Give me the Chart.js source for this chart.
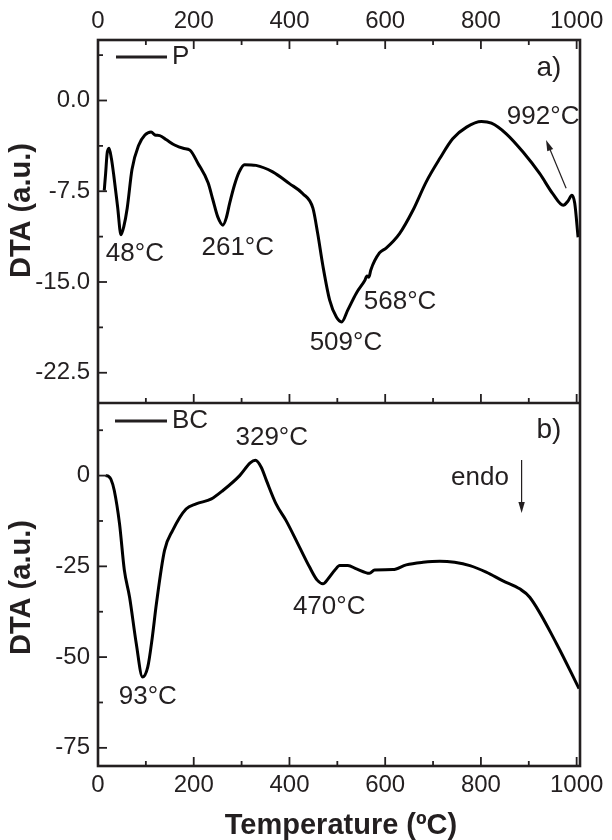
<!DOCTYPE html>
<html>
<head>
<meta charset="utf-8">
<script src="https://cdn.jsdelivr.net/npm/chart.js@4.4.1/dist/chart.umd.min.js"></script>
<style>
  html, body { margin: 0; padding: 0; background: #fff; }
  canvas { display: block; }
</style>
</head>
<body>
<canvas id="dtaChart" width="612" height="840"></canvas>
<script>
// sample P, panel a)
const tempP = [13, 16, 19, 23, 28, 33, 41, 48, 54, 61, 71, 85, 98, 111, 119, 129, 143, 160, 178, 192,
  209, 230, 240, 250, 261, 268, 275, 285, 295, 306, 330, 365, 400, 428, 449, 459, 470, 484, 498, 509,
  522, 540, 557, 562, 566, 570, 588, 602, 630, 658, 686, 714, 741, 770, 801, 822, 853, 888, 923, 950,
  972, 982, 990, 996, 1003];
const dtaP = [-7.45, -6.0, -4.4, -3.95, -4.8, -6.2, -8.8, -11.1, -10.4, -8.9, -5.7, -3.7, -2.85, -2.6, -2.85, -2.9, -3.25, -3.68, -3.95, -4.1,
  -5.2, -6.8, -8.2, -9.6, -10.3, -9.7, -8.5, -7.0, -5.9, -5.3, -5.36, -5.9, -6.87, -7.7, -8.9, -11.0, -13.7, -16.5, -17.9, -18.3,
  -17.3, -15.9, -14.9, -14.5, -14.6, -14.0, -12.6, -12.2, -11.0, -9.07, -6.7, -4.8, -3.16, -2.2, -1.73, -1.87, -2.75, -4.26, -6.05, -7.7,
  -8.66, -8.3, -7.83, -8.5, -11.3];

// sample BC, panel b)
const tempBC = [16, 22, 27, 34, 45, 55, 66, 80, 93, 104, 113, 122, 139, 156, 184, 205, 237, 261, 296, 318,
  329, 341, 352, 372, 393, 421, 442, 458, 470, 482, 495, 505, 522, 540, 567, 578, 616, 644, 679, 714,
  745, 777, 811, 846, 881, 902, 958, 1005];
const dtaBC = [0, -0.2, -1.0, -4.1, -13.3, -26, -33.5, -46.3, -55.5, -52.7, -45, -35.3, -20.6, -15.1, -9.2, -7.8, -6.4, -4.1, 0, 3.5,
  4.2, 2.3, -1.4, -7.8, -12.4, -19.7, -25.2, -28.8, -29.8, -28.2, -26, -24.8, -24.8, -25.7, -26.9, -26, -25.9, -24.6, -23.9, -23.6,
  -23.9, -24.8, -26.6, -29.0, -31.2, -33.5, -46.3, -58.7];

const tempTicks = [0, 100, 200, 300, 400, 500, 600, 700, 800, 900, 1000];
const tempLabels = [0, 200, 400, 600, 800, 1000];
const topTicks = [-22.5, -18.75, -15, -11.25, -7.5, -3.75, 0, 3.75];
const topLabels = [-22.5, -15, -7.5, 0];
const botTicks = [-75, -62.5, -50, -37.5, -25, -12.5, 0, 12.5];
const botLabels = [-75, -50, -25, 0];

// marked peak temperatures
const peaksP = [48, 261, 509, 568, 992];
const peaksBC = [93, 329, 470];

const ink = '#231f20';
const sans = '"Liberation Sans", Arial, sans-serif';

function setTicks(list) {
  return scale => { scale.ticks = list.map(v => ({ value: v })); };
}

function xAxis(position, showLabels, padding, height) {
  return {
    type: 'linear',
    position: position,
    min: 0,
    max: 1007,
    grid: { display: false, drawTicks: false },
    border: { display: false },
    afterBuildTicks: setTicks(tempTicks),
    afterFit: s => { s.height = height; },
    ticks: {
      display: showLabels,
      padding: padding,
      maxRotation: 0,
      autoSkip: false,
      color: ink,
      font: { family: sans, size: 24 },
      callback: v => tempLabels.includes(v) ? String(v) : ''
    }
  };
}

function yAxis(min, max, ticks, labels, digits) {
  return {
    type: 'linear',
    position: 'left',
    stack: 'panels',
    stackWeight: 1,
    min: min,
    max: max,
    grid: { display: false, drawTicks: false },
    border: { display: false },
    afterBuildTicks: setTicks(ticks),
    afterFit: s => { s.width = 98; },
    ticks: {
      padding: 8,
      autoSkip: false,
      color: ink,
      font: { family: sans, size: 24 },
      callback: v => labels.includes(v) ? v.toFixed(digits) : ''
    }
  };
}

function line(ctx, x1, y1, x2, y2) {
  ctx.beginPath();
  ctx.moveTo(x1, y1);
  ctx.lineTo(x2, y2);
  ctx.stroke();
}

function arrow(ctx, x1, y1, x2, y2) {
  const ang = Math.atan2(y2 - y1, x2 - x1);
  const len = 11, half = 3.2;
  line(ctx, x1, y1, x2 - Math.cos(ang) * len * 0.8, y2 - Math.sin(ang) * len * 0.8);
  ctx.beginPath();
  ctx.moveTo(x2, y2);
  ctx.lineTo(x2 - Math.cos(ang) * len - Math.sin(ang) * half, y2 - Math.sin(ang) * len + Math.cos(ang) * half);
  ctx.lineTo(x2 - Math.cos(ang) * len + Math.sin(ang) * half, y2 - Math.sin(ang) * len - Math.cos(ang) * half);
  ctx.closePath();
  ctx.fill();
}

// box, divider and inward tick marks
const framePlugin = {
  id: 'frame',
  afterDraw(chart) {
    const { ctx, chartArea: a, scales } = chart;
    const x = scales.x, yT = scales.yTop, yB = scales.yBot;
    const mid = yT.bottom;
    ctx.save();
    ctx.strokeStyle = ink;
    ctx.lineWidth = 1.8;
    tempTicks.forEach(v => {
      const px = x.getPixelForValue(v);
      const len = tempLabels.includes(v) ? 9 : 5;
      line(ctx, px, a.top, px, a.top + len);
      line(ctx, px, mid, px, mid - len);
      line(ctx, px, a.bottom, px, a.bottom - len);
    });
    topTicks.forEach(v => {
      const py = yT.getPixelForValue(v);
      line(ctx, a.left, py, a.left + (topLabels.includes(v) ? 9 : 5), py);
    });
    botTicks.forEach(v => {
      const py = yB.getPixelForValue(v);
      line(ctx, a.left, py, a.left + (botLabels.includes(v) ? 9 : 5), py);
    });
    ctx.lineWidth = 2.6;
    ctx.strokeRect(a.left, a.top, a.right - a.left, a.bottom - a.top);
    line(ctx, a.left, mid, a.right, mid);
    ctx.restore();
  }
};

// legends, peak labels, arrows and axis titles
const notesPlugin = {
  id: 'notes',
  afterDraw(chart) {
    const { ctx, chartArea: a, scales } = chart;
    const x = scales.x, yT = scales.yTop, yB = scales.yBot;
    ctx.save();
    ctx.fillStyle = ink;
    ctx.strokeStyle = ink;
    ctx.textBaseline = 'middle';

    // legend entries
    ctx.lineWidth = 3;
    line(ctx, a.left + 18, a.top + 17, a.left + 69, a.top + 17);
    line(ctx, a.left + 17, yT.bottom + 18, a.left + 69, yT.bottom + 18);
    ctx.font = '26px ' + sans;
    ctx.textAlign = 'left';
    ctx.fillText('P', a.left + 74, a.top + 17);
    ctx.fillText('BC', a.left + 74, yT.bottom + 18);

    // peak labels
    const text = (s, xv, yv, sc) => ctx.fillText(s, x.getPixelForValue(xv), sc.getPixelForValue(yv));
    ctx.textAlign = 'center';
    text(peaksP[0] + '°C', 77, -12.7, yT);
    text(peaksP[1] + '°C', 292, -12.2, yT);
    text(peaksP[2] + '°C', 518, -20.0, yT);
    text(peaksP[3] + '°C', 631, -16.6, yT);
    text(peaksP[4] + '°C', 930, -1.36, yT);
    text(peaksBC[0] + '°C', 104, -61, yB);
    text(peaksBC[1] + '°C', 363, 10.4, yB);
    text(peaksBC[2] + '°C', 483, -36.2, yB);
    text('endo', 798, -0.7, yB);
    ctx.font = '28px ' + sans;
    text('a)', 942, 2.69, yT);
    text('b)', 942, 12.6, yB);

    // arrows
    ctx.lineWidth = 1.2;
    arrow(ctx, x.getPixelForValue(978), yT.getPixelForValue(-7.26), x.getPixelForValue(936), yT.getPixelForValue(-3.26));
    arrow(ctx, x.getPixelForValue(885), yB.getPixelForValue(4.3), x.getPixelForValue(885), yB.getPixelForValue(-10.3));

    // axis titles
    ctx.font = 'bold 29px ' + sans;
    ctx.fillText('Temperature (ºC)', (a.left + a.right) / 2 + 2, 826);
    [[yT, -11], [yB, 3]].forEach(([sc, dy]) => {
      ctx.save();
      ctx.translate(22, (sc.top + sc.bottom) / 2 + dy);
      ctx.rotate(-Math.PI / 2);
      ctx.fillText('DTA (a.u.)', 0, 0);
      ctx.restore();
    });
    ctx.restore();
  }
};

const toPoints = (xs, ys) => xs.map((t, i) => ({ x: t, y: ys[i] }));

new Chart(document.getElementById('dtaChart'), {
  type: 'line',
  data: {
    datasets: [
      {
        label: 'P',
        data: toPoints(tempP, dtaP),
        yAxisID: 'yTop',
        borderColor: '#000',
        borderWidth: 3,
        pointRadius: 0,
        fill: false,
        cubicInterpolationMode: 'monotone'
      },
      {
        label: 'BC',
        data: toPoints(tempBC, dtaBC),
        yAxisID: 'yBot',
        borderColor: '#000',
        borderWidth: 3,
        pointRadius: 0,
        fill: false,
        cubicInterpolationMode: 'monotone'
      }
    ]
  },
  options: {
    responsive: false,
    animation: false,
    parsing: true,
    layout: { padding: { left: 0, right: 32, top: 0, bottom: 0 } },
    plugins: { legend: { display: false }, tooltip: { enabled: false } },
    scales: {
      x: xAxis('bottom', true, 5, 74),
      x2: xAxis('top', true, 4, 40),
      yBot: yAxis(-80, 20, botTicks, botLabels, 0),
      yTop: yAxis(-25, 5, topTicks, topLabels, 1)
    }
  },
  plugins: [framePlugin, notesPlugin]
});
</script>
</body>
</html>
